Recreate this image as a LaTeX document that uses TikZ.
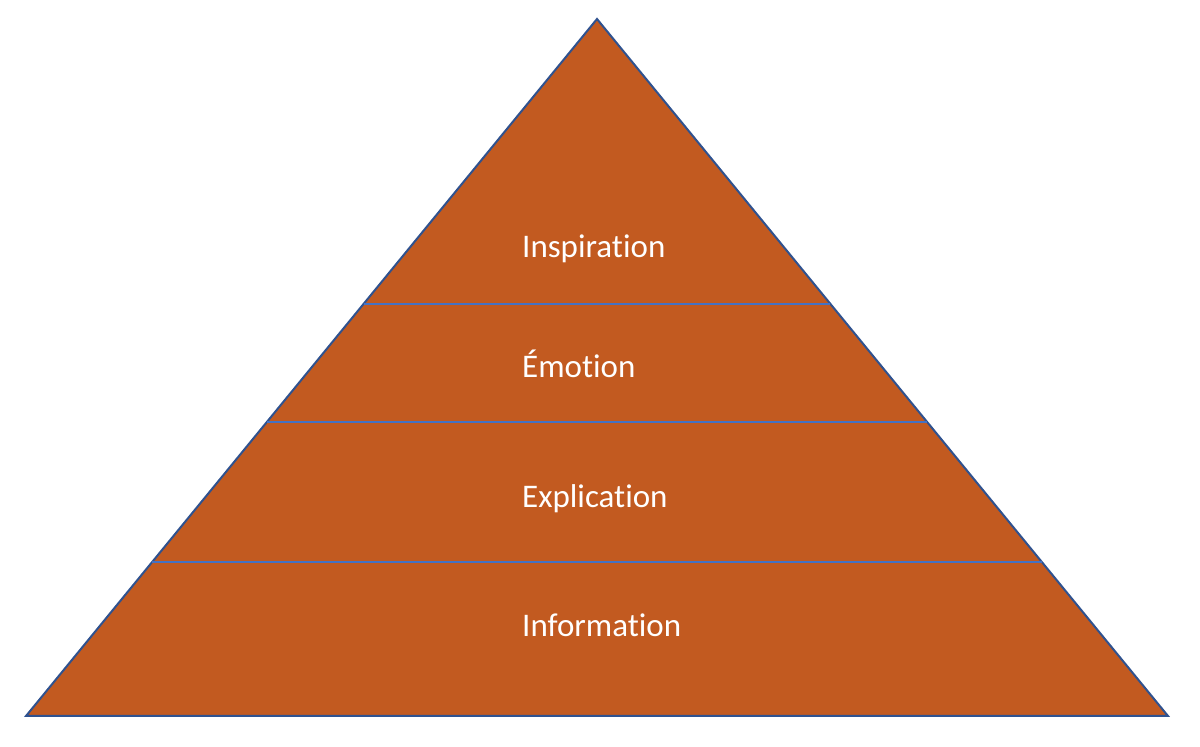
\documentclass[tikz,border=0pt]{standalone}
\usepackage{fontspec}
\setmainfont{Carlito}[Ligatures=NoCommon]
\usetikzlibrary{calc}

\definecolor{layerfill}{HTML}{C25A20}
\definecolor{rimblue}{HTML}{2F528F}
\definecolor{sepblue}{HTML}{4472C4}

\tikzstyle{layer}=[anchor=base west,
                   text=white,
                   inner sep=0pt,
                   font=\fontsize{33}{40}\selectfont]
\tikzstyle{rim}=[draw=rimblue,
                 line width=2pt,
                 fill=layerfill,
                 line join=miter]
\tikzstyle{sep}=[draw=sepblue,
                 line width=2pt]

\begin{document}
\begin{tikzpicture}[x=1pt,y=1pt]
  \useasboundingbox (0,0) rectangle (1200,747);

  % corners of the pyramid
  \coordinate (top) at (597,728);
  \coordinate (bl) at (26,31);
  \coordinate (br) at (1168,31);
  \path[rim] (top) -- (bl) -- (br) -- cycle;

  % the layers are now separated by horizontal lines:
  \foreach \t/\n in {0.4089/a,0.5782/b,0.7790/c} {
    \coordinate (l\n) at ($(top)!\t!(bl)$);
    \coordinate (r\n) at ($(top)!\t!(br)$);
    \draw[sep] (l\n) -- (r\n);
  }

  \node (insp) [layer] at (522,489) {Inspiration};
  \node (emo)  [layer] at (522,369) {Émotion};
  \node (expl) [layer] at (522,239) {Explication};
  \node (info) [layer] at (522,110) {Information};
\end{tikzpicture}
\end{document}
